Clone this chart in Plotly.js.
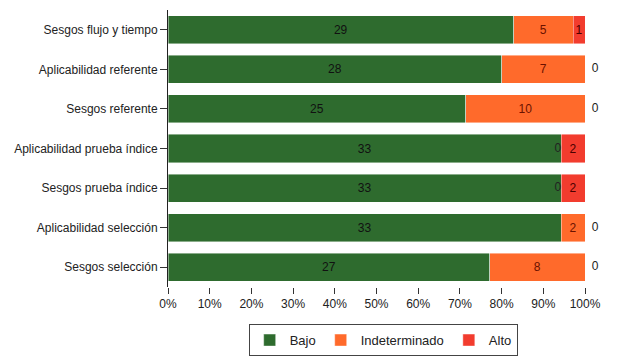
<!DOCTYPE html>
<html>
<head>
<meta charset="utf-8">
<script src="https://cdn.plot.ly/plotly-3.0.1.min.js"></script>
<style>html,body{margin:0;padding:0;background:#fff;}#chart{width:619px;height:362px;}</style>
</head>
<body>
<div id="chart"></div>
<script>
const categories = ["Sesgos flujo y tiempo", "Aplicabilidad referente", "Sesgos referente", "Aplicabilidad prueba índice", "Sesgos prueba índice", "Aplicabilidad selección", "Sesgos selección"];
const bajo = [29, 28, 25, 33, 33, 33, 27];
const indeterminado = [5, 7, 10, 0, 0, 2, 8];
const alto = [1, 0, 0, 2, 2, 0, 0];
const seriesNames = ["Bajo", "Indeterminado", "Alto"];
const tickVals = [0, 10, 20, 30, 40, 50, 60, 70, 80, 90, 100];

const colors = ["#2e6b2e", "#ff6a2b", "#f23c2e"];
const textColors = ["#111111", "#6b1200", "#4a0000"];
const series = [bajo, indeterminado, alto];

const totals = categories.map((c, i) => bajo[i] + indeterminado[i] + alto[i]);

const traces = series.map((vals, k) => ({
  type: "bar",
  orientation: "h",
  name: seriesNames[k],
  y: categories,
  x: vals,
  text: vals.map(v => v === 0 ? "" : String(v)),
  textposition: "inside",
  insidetextanchor: "middle",
  textangle: 0,
  constraintext: "none",
  textfont: {family: "Liberation Sans, Arial, sans-serif", size: 12, color: textColors[k]},
  marker: {color: colors[k], line: {color: "rgba(255,255,255,0.55)", width: 0.8}},
  hoverinfo: "none"
}));

// zero labels: Indeterminado zeros sit just left of their (empty) segment, Alto zeros just right of 100%
const zx = [], zy = [], zt = [], zpos = [];
categories.forEach((c, i) => {
  if (indeterminado[i] === 0) {
    zx.push((bajo[i] + indeterminado[i]) / totals[i] * 100); zy.push(c); zt.push("0"); zpos.push("middle left");
  }
  if (alto[i] === 0) {
    zx.push(100); zy.push(c); zt.push("  0"); zpos.push("middle right");
  }
});
traces.push({
  type: "scatter",
  mode: "text",
  x: zx, y: zy,
  text: zt,
  textposition: zpos,
  textfont: {family: "Liberation Sans, Arial, sans-serif", size: 12, color: "#222"},
  showlegend: false,
  cliponaxis: false,
  hoverinfo: "none"
});

const layout = {
  width: 619, height: 362,
  margin: {l: 168, r: 34, t: 10, b: 75, autoexpand: false},
  barmode: "stack",
  barnorm: "percent",
  bargap: 0.29,
  paper_bgcolor: "#fff",
  plot_bgcolor: "#fff",
  font: {family: "Liberation Sans, Arial, sans-serif", size: 12, color: "#222"},
  xaxis: {
    range: [0, 100],
    tickvals: tickVals,
    ticktext: tickVals.map(v => v + "%"),
    ticks: "outside", ticklen: 6, tickwidth: 1, tickcolor: "#333",
    showgrid: false, zeroline: false, showline: false,
    automargin: false,
    tickfont: {size: 12, color: "#222"}
  },
  yaxis: {
    type: "category",
    categoryorder: "array",
    categoryarray: categories,
    range: [6.5, -0.5],
    ticks: "outside", ticklen: 7, tickwidth: 1, tickcolor: "#333",
    showline: true, linecolor: "#222", linewidth: 1,
    showgrid: false, zeroline: false,
    automargin: false,
    tickfont: {size: 12, color: "#222"}
  },
  showlegend: true,
  legend: {
    orientation: "h",
    x: 0.516, xanchor: "center",
    y: -0.134, yanchor: "top",
    bordercolor: "#444", borderwidth: 1,
    font: {size: 13, color: "#222"},
    traceorder: "normal",
    itemwidth: 30
  }
};

Plotly.newPlot("chart", traces, layout, {displayModeBar: false, staticPlot: true});
</script>
</body>
</html>
